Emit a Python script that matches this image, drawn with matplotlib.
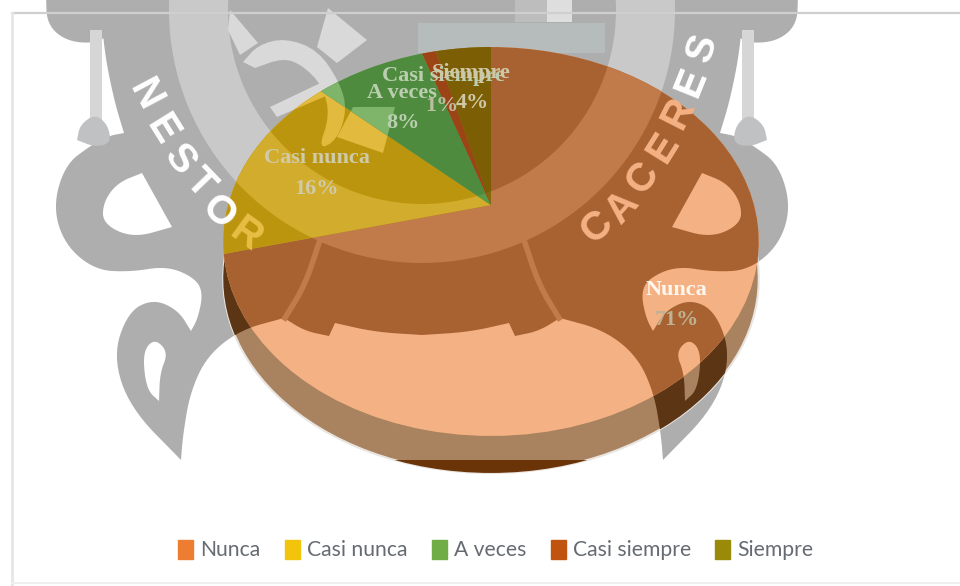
import numpy as np
import matplotlib
matplotlib.use("Agg")
import matplotlib.pyplot as plt
from matplotlib.patches import Circle, Patch, Polygon, Rectangle, Wedge
from matplotlib.transforms import Affine2D, Transform

categories = ["Nunca", "Casi nunca", "A veces", "Casi siempre", "Siempre"]
values = [71, 16, 8, 1, 4]
legend_colors = ["#ED7D31", "#F2C40C", "#70AD47", "#C0530F", "#9A8A0A"]

# colours of each slice: (plain, under the light ring, under the dark band)
slice_tints = [
    ("#F4B183", "#C17B4B", "#A86232"),
    ("#E2BA3E", "#D2AC2C", "#BC950F"),
    ("#7FB56B", "#5A9A48", "#4F8B3E"),
    ("#C46A3A", "#A8501E", "#9C4415"),
    ("#9A8020", "#856A0A", "#7C5F05"),
]
paper_tint = ("#FFFFFF", "#C9C9C9", "#AEAEAE")
side_tint = ("#A9825F", "#7C5A3A", "#5C3515")

# data labels: text, share, x/y of the text and of the share, colours
labels = [
    ("Nunca", "71%", 677, 290, 677, 320, "#FFF6EE", "#BDB294"),
    ("Casi nunca", "16%", 317, 158, 317, 189, "#CFCBA8", "#CFCBA8"),
    ("A veces", "8%", 402, 93, 403, 123, "#BBCFB0", "#BBCFB0"),
    ("Casi siempre", "1%", 443, 76, 442, 106, "#BBCFB0", "#BBBFA0"),
    ("Siempre", "4%", 471, 73, 472, 103, "#CFC8A8", "#CFC8A8"),
]

# pie placement in pixels (tilted disc with apex above the ellipse centre)
CX, CY, K, A, B = 491, 205, 0.1877, 263, 187.6
DEPTH = 37
SEAL_AXIS = 844  # seal is mirrored: x -> SEAL_AXIS - x


class Tilt(Transform):
    input_dims = 2
    output_dims = 2

    def transform_non_affine(self, xy):
        xy = np.asarray(xy, dtype=float)
        d = 1 + K * xy[:, 1]
        return np.column_stack((CX + A * xy[:, 0] / d, CY - B * xy[:, 1] / d))


def smooth(points, rounds=3):
    pts = np.array(points, dtype=float)
    for _ in range(rounds):
        q = 0.75 * pts[:-1] + 0.25 * pts[1:]
        r = 0.25 * pts[:-1] + 0.75 * pts[1:]
        mid = np.empty((len(q) * 2, 2))
        mid[0::2] = q
        mid[1::2] = r
        pts = np.vstack((pts[0], mid, pts[-1]))
    return pts


def mirror(pts):
    pts = np.asarray(pts, dtype=float)
    return np.column_stack((SEAL_AXIS - pts[:, 0], pts[:, 1]))


# ---------- seal watermark outline, left half ----------
outline = [
    [(422, -5), (100, -5)],
    [(100, -5), (104, 50), (114, 100), (124, 133)],
    [(124, 133), (108, 136), (90, 146), (65, 165), (53, 207), (65, 245), (95, 270),
     (130, 272), (167, 266), (195, 278), (203, 293), (198, 318), (191, 331)],
    [(191, 331), (178, 310), (153, 299), (128, 312), (113, 356), (130, 408), (181, 460)],
    [(181, 460), (183, 435), (190, 393), (207, 356), (240, 330), (284, 318)],
    [(284, 318), (305, 331), (329, 336)],
    [(329, 336), (335, 323)],
    [(335, 323), (375, 332), (422, 335)],
]
left_half = np.vstack([smooth(seg) for seg in outline])
silhouette = np.vstack((left_half, mirror(left_half[::-1])))

d_hole = np.vstack((smooth([(172, 227), (133, 238), (103, 224), (103, 203), (117, 183), (142, 173)]), [(172, 227)]))
tail_hole = smooth([(159, 401), (147, 390), (143, 360), (147, 345), (157, 340), (168, 353), (160, 373), (159, 401)])
blob = smooth([(46, -5), (47, 25), (68, 42), (100, 43), (110, 30), (110, -5)])
gear_arm = smooth([(243, 62), (258, 45), (285, 38), (318, 50), (340, 83), (347, 110), (337, 140), (318, 150),
                   (330, 115), (322, 85), (302, 65), (283, 58), (255, 68)], 2)
gear_spokes = [
    [(230, 10), (258, 43), (240, 55), (228, 30)],
    [(328, 8), (367, 40), (337, 63), (317, 47)],
    [(270, 107), (333, 77), (340, 90), (277, 117)],
    [(353, 107), (395, 107), (383, 153), (337, 137)],
]
ribbon = smooth([(320, 240), (305, 285), (285, 318)], 2)
bulb = smooth([(77, 140), (80, 125), (95, 114), (108, 125), (111, 143), (95, 147), (77, 140)], 2)

# letter, x, y, rotation, colour (each letter sits on one ground only)
letters = [
    ("N", 145, 95, -62, "#FFFFFF"), ("E", 162, 130, -58, "#FFFFFF"), ("S", 180, 160, -52, "#FFFFFF"),
    ("T", 200, 183, -46, "#FFFFFF"), ("O", 218, 212, -42, "#FFFFFF"), ("R", 245, 235, -36, "#E8BE45"),
    ("C", 597, 227, 42, "#F4B183"), ("A", 623, 207, 48, "#F4B183"), ("C", 643, 178, 55, "#F4B183"),
    ("E", 663, 148, 58, "#F4B183"), ("R", 678, 113, 63, "#F4B183"), ("E", 691, 82, 68, "#FFFFFF"),
    ("S", 702, 48, 72, "#FFFFFF"),
]


def draw_seal(ax, tint, clip, z):
    plain, ring_col, band = tint
    artists = [ax.add_patch(Polygon(silhouette, closed=True, fc=band, ec="none", zorder=z))]
    for pts in (blob, mirror(blob)):
        artists.append(ax.add_patch(Polygon(pts, closed=True, fc=band, ec="none", zorder=z)))
    artists.append(ax.add_patch(Wedge((422, 10), 253, 0, 360, width=59, fc=ring_col, ec="none", zorder=z)))
    for arm in [gear_arm] + gear_spokes:
        artists.append(ax.add_patch(Polygon(arm, closed=True, fc=plain if clip is not None else "#D9D9D9",
                                            ec="none", zorder=z)))
    for hole in (d_hole, mirror(d_hole), tail_hole, mirror(tail_hole)):
        artists.append(ax.add_patch(Polygon(hole, closed=True, fc=plain, ec="none", zorder=z)))
    for rib in (ribbon, mirror(ribbon)):
        artists.extend(ax.plot(rib[:, 0], rib[:, 1], color=ring_col, lw=4, zorder=z))
    if clip is not None:
        for a in artists:
            a.set_clip_path(clip)


fig = plt.figure(figsize=(9.6, 5.86), dpi=100)
ax = fig.add_axes([0, 0, 1, 1])

wedges, _ = ax.pie(values, startangle=90, counterclock=False, frame=True,
                   colors=[t[0] for t in slice_tints], wedgeprops={"linewidth": 0})
ax.set_aspect("auto")
ax.set_xlim(0, 960)
ax.set_ylim(586, 0)
ax.axis("off")

tilt = Tilt() + ax.transData
for w in wedges:
    w.set_transform(tilt)
    w.set_zorder(5)

# seal on the paper
draw_seal(ax, paper_tint, None, 1)
for x in (90, SEAL_AXIS - 102):
    ax.add_patch(Rectangle((x, 30), 12, 90, fc="#D6D6D6", ec="none", zorder=1))
for pts in (bulb, mirror(bulb)):
    ax.add_patch(Polygon(pts, closed=True, fc="#BFC1C2", ec="none", zorder=1))
ax.add_patch(Rectangle((418, 23), 187, 30, fc="#B6BBBC", ec="none", zorder=1))
ax.add_patch(Rectangle((547, 0), 25, 22, fc="#DEDEDE", ec="none", zorder=1))
ax.add_patch(Rectangle((515, 0), 32, 22, fc="#BDBDBD", ec="none", zorder=1))

# chart frame
ax.plot([12, 960], [13, 13], color="#CFCFCF", lw=1.6, zorder=2)
ax.plot([12, 12], [13, 586], color="#E6E6E6", lw=2, zorder=2)
ax.plot([12, 960], [583, 583], color="#EFEFEF", lw=1.5, zorder=2)

# side of the disc
side_tr = Tilt() + Affine2D().translate(0, DEPTH) + ax.transData
side = ax.add_patch(Circle((0, 0), 1, fc=side_tint[0], ec="#E8E4E0", lw=1.5, transform=side_tr, zorder=3))
low = ax.add_patch(Circle((0, 0), 1, fc="#6B3308", ec="none", transform=side_tr, zorder=3))
low.set_clip_path(ax.add_patch(Rectangle((0, 460), 960, 126, fc="none", ec="none", zorder=0)))
draw_seal(ax, side_tint, side, 4)

# seal seen through each slice
for w, tint in zip(wedges, slice_tints):
    draw_seal(ax, tint, w, 6)

for ch, x, y, rot, col in letters:
    ax.text(x, y, ch, color=col, fontsize=29, fontweight="bold", family="Liberation Sans",
            rotation=rot, rotation_mode="anchor", ha="center", va="center", zorder=7)

for name, share, x1, y1, x2, y2, col, share_col in labels:
    ax.text(x1, y1, name, color=col, fontsize=16, fontweight="bold", family="Liberation Serif",
            ha="center", va="center", zorder=8)
    ax.text(x2, y2, share, color=share_col, fontsize=16, fontweight="bold", family="Liberation Serif",
            ha="center", va="center", zorder=8)

handles = [Patch(color=c, label=n) for c, n in zip(legend_colors, categories)]
ax.legend(handles=handles, loc="center", bbox_to_anchor=(496 / 960, 1 - 550 / 586), ncol=5, frameon=False,
          handlelength=0.7, handleheight=1.0, handletextpad=0.35, columnspacing=1.15,
          prop={"family": "Lato", "size": 15.2}, labelcolor="#666B72")

fig.savefig("out.png", dpi=100)
plt.close()
